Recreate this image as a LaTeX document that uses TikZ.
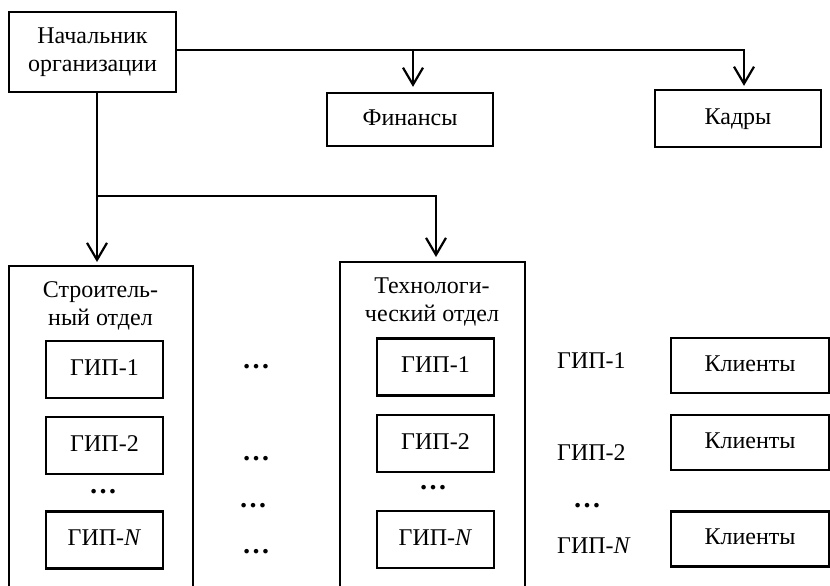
\documentclass[tikz,border=0pt]{standalone}
\usepackage{fontspec}
\setmainfont{Liberation Serif}
\usetikzlibrary{arrows.meta}
\begin{document}
\begin{tikzpicture}[x=1pt,y=-1pt,
  every node/.style={font=\fontsize{24}{28}\selectfont, inner sep=0pt},
  frame/.style={draw, line width=2.3pt},
  box/.style={frame, text height=16pt, text depth=5pt},
  gip/.style={box, minimum width=117pt, minimum height=57pt},
  client/.style={box, minimum width=158pt, minimum height=55pt},
  dept/.style={draw, line width=2pt, anchor=north},
  dots/.style={anchor=base, font=\fontsize{28}{30}\selectfont\bfseries},
  wire/.style={line width=2.2pt},
  arr/.style={wire, -{Straight Barb[length=17pt,width=20pt]}, shorten >=3pt}]
\useasboundingbox (0,0) rectangle (830,586);
\clip (0,0) rectangle (830,586);

% top level
\node[frame, minimum width=167pt, minimum height=80pt, align=center] (boss) at (92.5,52) {Начальник\\организации};
\node[box, minimum width=166pt, minimum height=53pt] (fin) at (410,119.5) {Финансы};
\node[box, minimum width=166pt, minimum height=57pt] (kad) at (738,118.5) {Кадры};

% departments
\node[dept, minimum width=184pt, minimum height=345pt] (build) at (101,265) {};
\node[dept, minimum width=185pt, minimum height=350pt] (tech) at (432.5,261) {};
\node[align=center] (buildtitle) at (100.5,306) {Строитель-\\ный отдел};
\node[align=center] (techtitle) at (432,302) {Технологи-\\ческий отдел};

% chief project engineers, construction department
\node[gip] (b1) at (104.5,369.5) {ГИП-1};
\node[gip] (b2) at (104.5,445.5) {ГИП-2};
\node[gip] (bn) at (104.5,540) {ГИП-\textit{N}};
\node[dots] (bd) at (103,493) {…};

% chief project engineers, technology department
\node[gip] (t1) at (435.5,367) {ГИП-1};
\node[gip] (t2) at (435.5,443.5) {ГИП-2};
\node[gip] (tn) at (435.5,539.5) {ГИП-\textit{N}};
\node[dots] (td) at (433,489) {…};

% gap between the departments
\node[dots] (m1) at (256,368) {…};
\node[dots] (m2) at (256,460) {…};
\node[dots] (m3) at (253,507) {…};
\node[dots] (m4) at (256,553) {…};

% engineers and their clients
\node[anchor=base west] (g1) at (557,368) {ГИП-1};
\node[anchor=base west] (g2) at (557,460) {ГИП-2};
\node[dots] (gd) at (587,507) {…};
\node[anchor=base west] (gn) at (557,553) {ГИП-\textit{N}};
\node[client] (c1) at (750,365.5) {Клиенты};
\node[client] (c2) at (750,442.5) {Клиенты};
\node[client] (c3) at (750,539) {Клиенты};

% connectors
\coordinate (tf) at (413,50);
\coordinate (tk) at (744,50);
\coordinate (jl) at (97,196);
\coordinate (jr) at (436,196);
\draw[arr] (boss.east |- tk) -- (tk) -- (kad.north -| tk);
\draw[arr, shorten >=5pt] (tf) -- (fin.north -| tf);
\draw[arr] (boss.south -| jl) -- (build.north -| jl);
\draw[arr, shorten >=4pt] (jl) -- (jr) -- (tech.north -| jr);
\end{tikzpicture}
\end{document}
